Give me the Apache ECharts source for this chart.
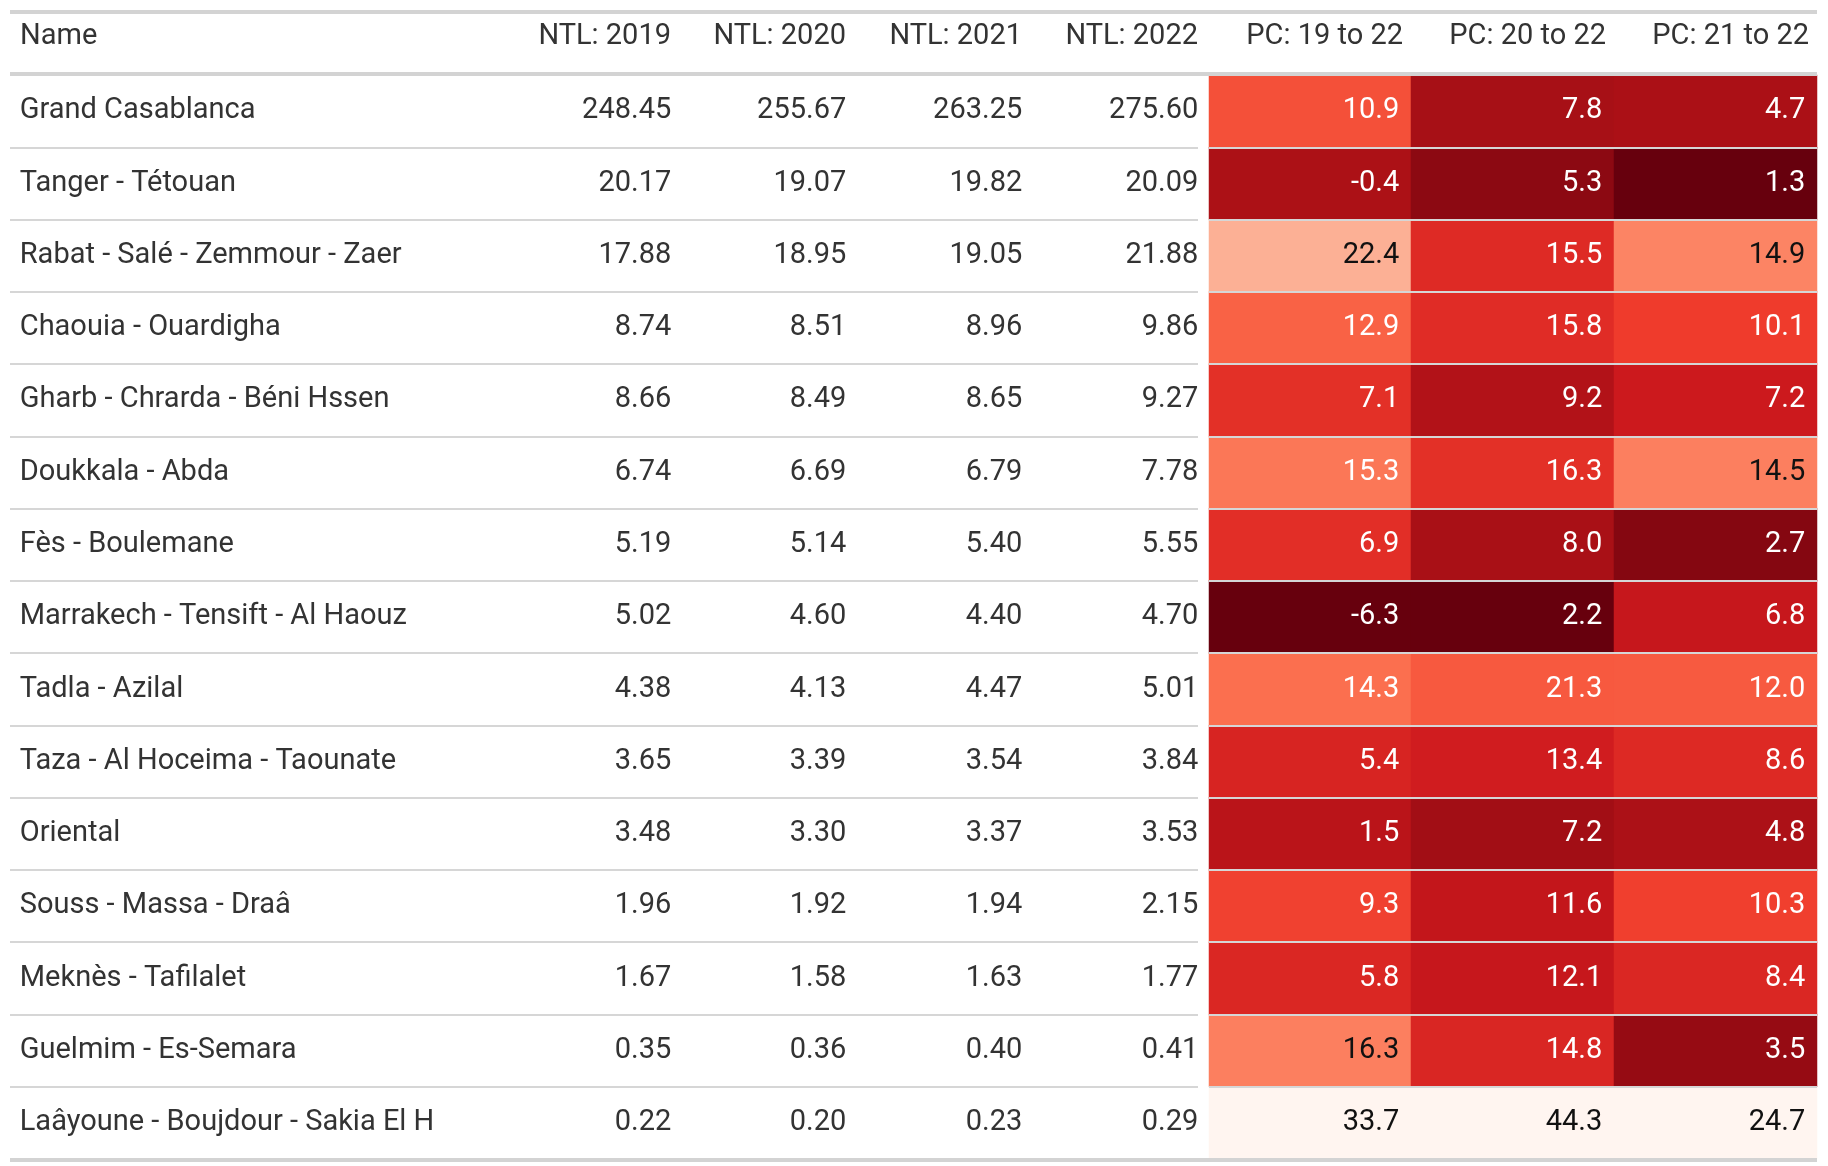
<!DOCTYPE html>
<html><head><meta charset="utf-8">
<script src="https://cdn.jsdelivr.net/npm/echarts@6/dist/echarts.min.js"></script>
<style>html,body{margin:0;background:#fff}#c{width:1828px;height:1166px}</style>
</head><body><div id="c"></div>
<script>
var names = ['Grand Casablanca', 'Tanger - Tétouan', 'Rabat - Salé - Zemmour - Zaer', 'Chaouia - Ouardigha',
  'Gharb - Chrarda - Béni Hssen', 'Doukkala - Abda', 'Fès - Boulemane', 'Marrakech - Tensift - Al Haouz',
  'Tadla - Azilal', 'Taza - Al Hoceima - Taounate', 'Oriental', 'Souss - Massa - Draâ',
  'Meknès - Tafilalet', 'Guelmim - Es-Semara', 'Laâyoune - Boujdour - Sakia El H'];
var headers = ['Name', 'NTL: 2019', 'NTL: 2020', 'NTL: 2021', 'NTL: 2022', 'PC: 19 to 22', 'PC: 20 to 22', 'PC: 21 to 22'];
var ntl2019 = [248.45, 20.17, 17.88, 8.74, 8.66, 6.74, 5.19, 5.02, 4.38, 3.65, 3.48, 1.96, 1.67, 0.35, 0.22];
var ntl2020 = [255.67, 19.07, 18.95, 8.51, 8.49, 6.69, 5.14, 4.60, 4.13, 3.39, 3.30, 1.92, 1.58, 0.36, 0.20];
var ntl2021 = [263.25, 19.82, 19.05, 8.96, 8.65, 6.79, 5.40, 4.40, 4.47, 3.54, 3.37, 1.94, 1.63, 0.40, 0.23];
var ntl2022 = [275.60, 20.09, 21.88, 9.86, 9.27, 7.78, 5.55, 4.70, 5.01, 3.84, 3.53, 2.15, 1.77, 0.41, 0.29];
var pc1922 = [10.9, -0.4, 22.4, 12.9, 7.1, 15.3, 6.9, -6.3, 14.3, 5.4, 1.5, 9.3, 5.8, 16.3, 33.7];
var pc2022 = [7.8, 5.3, 15.5, 15.8, 9.2, 16.3, 8.0, 2.2, 21.3, 13.4, 7.2, 11.6, 12.1, 14.8, 44.3];
var pc2122 = [4.7, 1.3, 14.9, 10.1, 7.2, 14.5, 2.7, 6.8, 12.0, 8.6, 4.8, 10.3, 8.4, 3.5, 24.7];

var reds = ['#67000d', '#a50f15', '#cb181d', '#ef3b2c', '#fb6a4a', '#fc9272', '#fcbba1', '#fee0d2', '#fff5f0'];
var font = 'Roboto, "Noto Sans", sans-serif';
var top0 = 75, rowsH = 1084;
// column spans [left, right] in px
var cols = [[10, 496], [496, 671], [671, 846], [846, 1022], [1022, 1198], [1209, 1411], [1411, 1614], [1614, 1817]];
var columns = [names, ntl2019, ntl2020, ntl2021, ntl2022, pc1922, pc2022, pc2122];

var chart = echarts.init(document.getElementById('c'));
var grids = [], xAxes = [], yAxes = [], series = [], visualMaps = [], graphics = [];

columns.forEach(function (vals, ci) {
  var isPC = ci >= 5, isName = ci === 0;
  grids.push({ left: cols[ci][0], width: cols[ci][1] - cols[ci][0], top: top0, height: rowsH });
  xAxes.push({ gridIndex: ci, type: 'category', data: [headers[ci]], show: false });
  yAxes.push({
    gridIndex: ci, type: 'category', data: names, inverse: true, z: 5,
    axisLine: { show: false }, axisTick: { show: false }, axisLabel: { show: false },
    splitLine: { show: true, lineStyle: { color: '#d6d6d6', width: 2 } }
  });
  var mn = isPC ? Math.min.apply(null, vals) : 0, mx = isPC ? Math.max.apply(null, vals) : 1;
  var data = vals.map(function (v, ri) {
    var txt = isName ? v : (isPC ? v.toFixed(1) : v.toFixed(2));
    var lab = { formatter: txt };
    if (isPC) lab.color = (v - mn) / (mx - mn) > 0.55 ? '#111' : '#fff';
    return { value: [0, ri, isName ? 0 : v], label: lab };
  });
  var s = {
    type: 'heatmap', xAxisIndex: ci, yAxisIndex: ci, data: data,
    label: {
      show: true, position: isName ? 'insideLeft' : 'insideRight', fontFamily: font, fontSize: 29,
      color: '#333', distance: isPC ? 12 : 0, padding: isName ? [0, 0, 0, 10] : 0
    },
    emphasis: { disabled: true }
  };
  if (!isPC) s.itemStyle = { color: 'rgba(0,0,0,0)' };
  series.push(s);
  if (isPC) visualMaps.push({ show: false, seriesIndex: ci, dimension: 2, min: mn, max: mx, inRange: { color: reds } });
  graphics.push({
    type: 'text', left: isName ? cols[ci][0] + 10 : null,
    right: isName ? null : 1828 - cols[ci][1] + (isPC ? 8 : 0), top: 22,
    style: { text: headers[ci], font: '29px ' + font, fill: '#333' }
  });
});
// rule lines
[12, 74, 1160].forEach(function (y) {
  graphics.push({ type: 'rect', shape: { x: 10, y: y - 2, width: 1807, height: 4 }, style: { fill: '#d3d3d3' }, z: 10 });
});

chart.setOption({
  animation: false,
  grid: grids, xAxis: xAxes, yAxis: yAxes, series: series, visualMap: visualMaps, graphic: graphics
});
</script></body></html>
